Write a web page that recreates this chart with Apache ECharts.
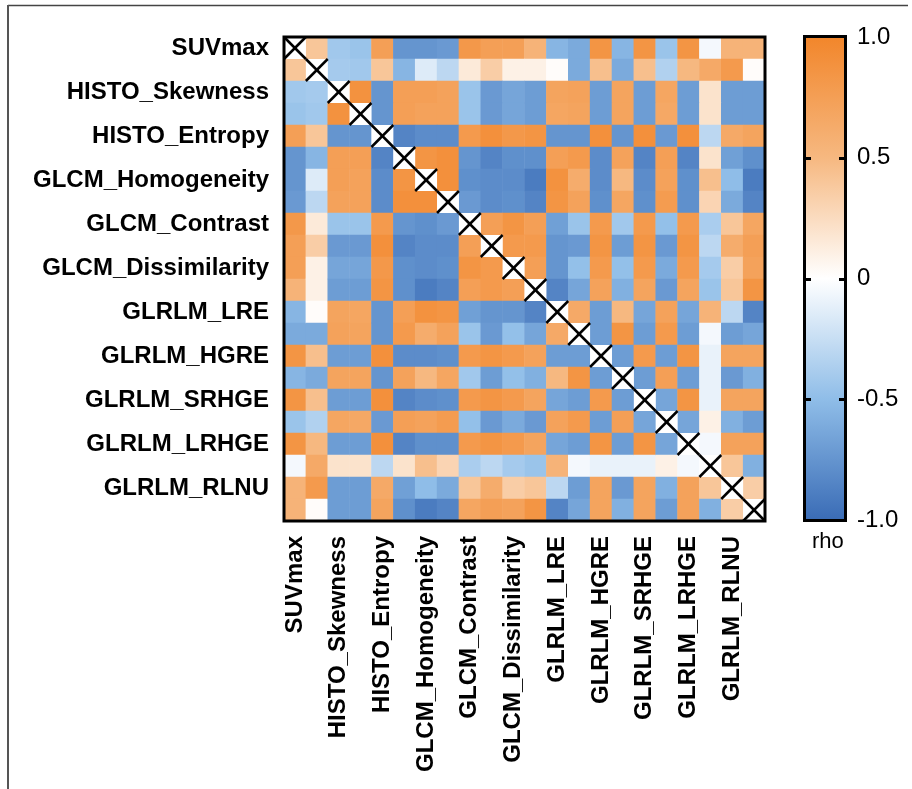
<!DOCTYPE html>
<html>
<head>
<meta charset="utf-8">
<script src="https://cdn.jsdelivr.net/npm/echarts@6/dist/echarts.min.js"></script>
<style>
html,body{margin:0;padding:0;background:#fff;}
#chart{width:912px;height:789px;}
</style>
</head>
<body>
<div id="chart"></div>
<script>
// Labels shown on the axes (every other feature is labelled in the original)
const featureLabels = ['SUVmax','HISTO_Skewness','HISTO_Entropy','GLCM_Homogeneity','GLCM_Contrast',
  'GLCM_Dissimilarity','GLRLM_LRE','GLRLM_HGRE','GLRLM_SRHGE','GLRLM_LRHGE','GLRLM_RLNU'];
const featureCount = 22;

// Colour scale (from rho = -1 to rho = +1) and colour bar tick labels
const scaleColors = ['#3A6CB6', '#8FBDE8', '#FFFFFF', '#F6B880', '#F2862B'];
const barTicks = [1.0, 0.5, 0, -0.5, -1.0];
const barTickLabels = ['1.0', '0.5', '0', '-0.5', '-1.0'];
const barInnerTicks = [0.5, 0, -0.5];
const barTitle = 'rho';

// Upper triangle of the correlation matrix: upperN holds rho for row N, columns N+1 .. 21
const upper0  = [0.4,-0.42,-0.45,0.75,-0.75,-0.75,-0.72,0.82,0.75,0.75,0.55,-0.55,-0.62,0.85,-0.55,0.85,-0.45,0.85,-0.05,0.55,0.55];
const upper1  = [-0.4,-0.42,0.4,-0.55,-0.15,-0.3,0.15,0.35,0.1,0.1,0.02,-0.62,0.45,-0.62,0.45,-0.35,0.5,0.65,0.8,0.02];
const upper2  = [0.88,-0.75,0.75,0.75,0.72,-0.45,-0.72,-0.65,-0.7,0.7,0.72,-0.7,0.7,-0.7,0.68,-0.7,0.2,-0.7,-0.7];
const upper3  = [-0.75,0.75,0.72,0.72,-0.45,-0.72,-0.65,-0.7,0.68,0.7,-0.7,0.7,-0.7,0.66,-0.7,0.2,-0.7,-0.7];
const upper4  = [-0.85,-0.8,-0.8,0.8,0.9,0.82,0.85,-0.75,-0.75,0.9,-0.75,0.9,-0.72,0.9,-0.3,0.65,0.7];
const upper5  = [0.85,0.9,-0.75,-0.85,-0.78,-0.78,0.75,0.8,-0.8,0.72,-0.85,0.75,-0.85,0.2,-0.68,-0.78];
const upper6  = [0.9,-0.78,-0.8,-0.8,-0.9,0.88,0.62,-0.8,0.5,-0.8,0.72,-0.78,0.45,-0.5,-0.9];
const upper7  = [-0.72,-0.8,-0.78,-0.85,0.85,0.72,-0.78,0.68,-0.78,0.78,-0.78,0.3,-0.62,-0.85];
const upper8  = [0.75,0.85,0.75,-0.68,-0.45,0.8,-0.42,0.8,-0.48,0.8,-0.38,0.4,0.68];
const upper9  = [0.8,0.8,-0.75,-0.72,0.85,-0.7,0.85,-0.72,0.85,-0.3,0.62,0.75];
const upper10 = [0.75,-0.75,-0.48,0.8,-0.48,0.8,-0.62,0.8,-0.4,0.35,0.72];
const upper11 = [-0.85,-0.65,0.72,-0.58,0.7,-0.72,0.7,-0.45,0.4,0.85];
const upper12 = [0.65,-0.7,0.5,-0.65,0.72,-0.65,0.55,-0.3,-0.85];
const upper13 = [-0.7,0.85,-0.7,0.8,-0.7,-0.05,-0.7,-0.65];
const upper14 = [-0.7,0.8,-0.7,0.85,-0.1,0.7,0.7];
const upper15 = [-0.7,0.75,-0.7,-0.1,-0.72,-0.58];
const upper16 = [-0.65,0.85,-0.1,0.7,0.7];
const upper17 = [-0.65,0.1,-0.58,-0.7];
const upper18 = [-0.05,0.72,0.72];
const upper19 = [0.4,-0.58];
const upper20 = [0.35];

const upperRows = [upper0,upper1,upper2,upper3,upper4,upper5,upper6,upper7,upper8,upper9,upper10,
  upper11,upper12,upper13,upper14,upper15,upper16,upper17,upper18,upper19,upper20];

const categories = [];
for (let i = 0; i < featureCount; i++) categories.push(String(i));

const cells = [];
upperRows.forEach((row, r) => {
  row.forEach((v, k) => {
    const c = r + 1 + k;
    cells.push([c, r, v]);   // upper triangle
    cells.push([r, c, v]);   // mirrored lower triangle
  });
});
const diagonal = [];
for (let i = 0; i < featureCount; i++) diagonal.push([i, i]);

const labelFmt = (v, idx) => (idx % 2 === 0 ? featureLabels[idx / 2] : '');
const FONT = '"Liberation Sans", Arial, Helvetica, sans-serif';

const BAR = {left: 805, top: 37, width: 40, height: 483};

// gradient stops for the colour bar, top (+1) to bottom (-1)
const barStops = scaleColors.slice().reverse().map((c, i, a) => ({offset: i / (a.length - 1), color: c}));

// short inward tick marks on both edges of the colour bar
const tickMarks = [];
barInnerTicks.forEach(v => {
  const y = Math.round(BAR.top + (1 - v) / 2 * BAR.height);
  tickMarks.push({type: 'rect', z: 200, shape: {x: BAR.left - 2, y: y - 1, width: 8, height: 3}, style: {fill: '#000'}});
  tickMarks.push({type: 'rect', z: 200, shape: {x: BAR.left + BAR.width - 6, y: y - 1, width: 8, height: 3}, style: {fill: '#000'}});
});

const chart = echarts.init(document.getElementById('chart'), null, {renderer: 'canvas'});
chart.setOption({
  backgroundColor: '#fff',
  animation: false,
  grid: [
    {left: 284, top: 37, width: 481, height: 484},
    {left: BAR.left, top: BAR.top, width: BAR.width, height: BAR.height}
  ],
  xAxis: [
    {type: 'category', data: categories, gridIndex: 0, position: 'bottom',
     axisLine: {show: false}, axisTick: {show: false}, splitLine: {show: false},
     axisLabel: {interval: 0, rotate: 90, margin: 15, formatter: labelFmt,
       fontSize: 24, fontWeight: 'bold', color: '#000', fontFamily: FONT}},
    {type: 'value', gridIndex: 1, show: false, min: 0, max: 1}
  ],
  yAxis: [
    {type: 'category', data: categories, gridIndex: 0, inverse: true,
     axisLine: {show: false}, axisTick: {show: false}, splitLine: {show: false},
     axisLabel: {interval: 0, margin: 15, formatter: labelFmt,
       fontSize: 24, fontWeight: 'bold', color: '#000', fontFamily: FONT}},
    {type: 'value', gridIndex: 1, min: -1, max: 1, interval: 0.5, position: 'right',
     axisLine: {show: false}, splitLine: {show: false}, axisTick: {show: false},
     axisLabel: {margin: 12, fontSize: 24, color: '#000', fontFamily: FONT,
       formatter: v => barTickLabels[barTicks.indexOf(v)]}}
  ],
  visualMap: {
    type: 'continuous', min: -1, max: 1, seriesIndex: 0, show: false,
    inRange: {color: scaleColors}
  },
  graphic: [
    {type: 'line', shape: {x1: 8, y1: 5.5, x2: 908, y2: 5.5}, style: {stroke: '#444', lineWidth: 1.5}, z: 100},
    {type: 'line', shape: {x1: 8, y1: 5, x2: 8, y2: 789}, style: {stroke: '#555', lineWidth: 2}, z: 100},
    {type: 'rect', shape: {x: BAR.left, y: BAR.top, width: BAR.width, height: BAR.height}, z: 0,
     style: {fill: new echarts.graphic.LinearGradient(0, 0, 0, 1, barStops)}},
    {type: 'rect', shape: {x: 284, y: 37, width: 481, height: 484}, style: {fill: 'transparent', stroke: '#000', lineWidth: 3}, z: 100},
    {type: 'rect', shape: {x: 804.5, y: 36.5, width: 41, height: 484}, style: {fill: 'transparent', stroke: '#000', lineWidth: 3}, z: 100},
    {type: 'text', left: 812, top: 531, style: {text: barTitle, fontSize: 22, fill: '#000', fontFamily: FONT}, z: 100}
  ].concat(tickMarks),
  series: [
    {type: 'heatmap', xAxisIndex: 0, yAxisIndex: 0, data: cells,
     itemStyle: {borderWidth: 0}, emphasis: {disabled: true}, progressive: 0},
    {type: 'custom', xAxisIndex: 0, yAxisIndex: 0, data: diagonal, z: 5,
     renderItem: function (params, api) {
       const p = api.coord([api.value(0), api.value(1)]);
       const s = api.size([1, 1]);
       const x0 = p[0] - s[0] / 2, y0 = p[1] - s[1] / 2, x1 = p[0] + s[0] / 2, y1 = p[1] + s[1] / 2;
       return {type: 'group', children: [
         {type: 'rect', shape: {x: x0, y: y0, width: s[0], height: s[1]}, style: {fill: '#fff'}},
         {type: 'line', shape: {x1: x0, y1: y0, x2: x1, y2: y1}, style: {stroke: '#000', lineWidth: 2.5}},
         {type: 'line', shape: {x1: x1, y1: y0, x2: x0, y2: y1}, style: {stroke: '#000', lineWidth: 2.5}}
       ]};
     }}
  ]
});
</script>
</body>
</html>
